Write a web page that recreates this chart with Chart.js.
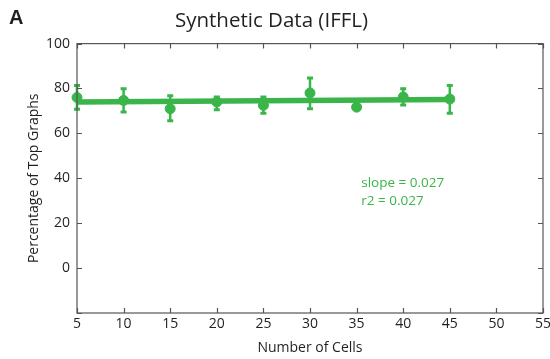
<!DOCTYPE html>
<html>
<head>
<meta charset="utf-8">
<script src="https://cdn.jsdelivr.net/npm/chart.js@4/dist/chart.umd.min.js"></script>
<style>
  html, body { margin: 0; padding: 0; background: #fff; }
  #wrap { width: 550px; height: 359px; position: relative; }
</style>
</head>
<body>
<div id="wrap"><canvas id="myChart"></canvas></div>
<script>
// valores
const cells = [5, 10, 15, 20, 25, 30, 35, 40, 45];
const meanPct = [76.0, 74.7, 71.0, 74.0, 72.5, 78.0, 71.7, 76.2, 75.3];
const upperPct = [81.3, 79.9, 76.8, 76.2, 76.2, 84.7, 72.4, 79.9, 81.3];
const lowerPct = [70.8, 69.5, 65.6, 70.5, 69.0, 71.0, 71.0, 72.6, 69.0];
const fitX = [5, 45];
const fitY = [74.0, 75.1];
const xTicks = [5, 10, 15, 20, 25, 30, 35, 40, 45, 50, 55];
const yTicks = [-20, 0, 20, 40, 60, 80, 100];
const statLines = ['slope = 0.027', 'r2 = 0.027'];

const green = '#3ab54a';
const ink = '#231f20';
const fontName = "'Open Sans', 'Noto Sans', sans-serif";

// barras de erro
const errorBars = {
    id: 'errorBars',
    afterDatasetsDraw(chart) {
        const x = chart.scales.x, y = chart.scales.y, ctx = chart.ctx;
        ctx.save();
        ctx.strokeStyle = green;
        cells.forEach((c, i) => {
            const px = x.getPixelForValue(c);
            const top = y.getPixelForValue(upperPct[i]);
            const bot = y.getPixelForValue(lowerPct[i]);
            ctx.lineWidth = 2.5;
            ctx.beginPath();
            ctx.moveTo(px, top); ctx.lineTo(px, bot);
            ctx.stroke();
            ctx.lineWidth = 3;
            ctx.beginPath();
            ctx.moveTo(px - 3, top); ctx.lineTo(px + 3, top);
            ctx.moveTo(px - 3, bot); ctx.lineTo(px + 3, bot);
            ctx.stroke();
        });
        ctx.restore();
    }
};

// moldura com ticks para dentro, letra A e texto da regressao
const frame = {
    id: 'frame',
    afterDraw(chart) {
        const x = chart.scales.x, y = chart.scales.y, ctx = chart.ctx;
        const a = chart.chartArea;
        ctx.save();
        ctx.strokeStyle = '#555';
        ctx.lineWidth = 1.2;
        ctx.strokeRect(a.left, a.top, a.right - a.left, a.bottom - a.top);
        ctx.beginPath();
        xTicks.forEach(t => {
            const px = Math.round(x.getPixelForValue(t)) + 0.5;
            ctx.moveTo(px, a.bottom); ctx.lineTo(px, a.bottom - 5);
            ctx.moveTo(px, a.top); ctx.lineTo(px, a.top + 5);
        });
        yTicks.forEach(t => {
            const py = Math.round(y.getPixelForValue(t)) + 0.5;
            ctx.moveTo(a.left, py); ctx.lineTo(a.left + 5, py);
            ctx.moveTo(a.right, py); ctx.lineTo(a.right - 5, py);
        });
        ctx.stroke();

        ctx.fillStyle = ink;
        ctx.font = "bold 20px 'Liberation Sans', Arial, sans-serif";
        ctx.textBaseline = 'middle';
        ctx.fillText('A', 9, 18);

        ctx.fillStyle = green;
        ctx.font = '13.5px ' + fontName;
        ctx.textAlign = 'left';
        const sx = x.getPixelForValue(35.5);
        const sy = y.getPixelForValue(38);
        statLines.forEach((s, i) => ctx.fillText(s, sx, sy + i * 18));
        ctx.restore();
    }
};

Chart.defaults.font.family = fontName;
Chart.defaults.color = ink;

const ctx = document.getElementById('myChart');
new Chart(ctx, {
    type: 'scatter',
    data: {
        datasets: [
            {
                label: 'fit',
                data: fitX.map((v, i) => ({ x: v, y: fitY[i] })),
                showLine: true,
                borderColor: green,
                borderWidth: 5.5,
                pointRadius: 0,
                clip: false,
                order: 2
            },
            {
                label: 'media',
                data: cells.map((c, i) => ({ x: c, y: meanPct[i] })),
                backgroundColor: green,
                borderColor: green,
                pointRadius: 5,
                showLine: false,
                clip: false,
                order: 1
            }
        ]
    },
    options: {
        responsive: true,
        maintainAspectRatio: false,
        animation: false,
        layout: { padding: { left: 0, right: 7, top: 0, bottom: 0 } },
        plugins: {
            legend: { display: false },
            tooltip: { enabled: false },
            title: {
                display: true,
                text: 'Synthetic Data (IFFL)',
                color: ink,
                font: { size: 20.5, weight: 'normal' },
                padding: { top: 9, bottom: 10 }
            }
        },
        scales: {
            x: {
                type: 'linear',
                min: 5,
                max: 55,
                afterBuildTicks: s => { s.ticks = xTicks.map(v => ({ value: v })); },
                afterFit: s => { s.height = 46; s.paddingRight = 7; },
                grid: { display: false, drawTicks: false },
                border: { display: false },
                ticks: { font: { size: 14 }, padding: 3, maxRotation: 0 },
                title: { display: true, text: 'Number of Cells', font: { size: 14 }, padding: { top: 0, bottom: 3 } }
            },
            y: {
                min: -20,
                max: 100,
                afterBuildTicks: s => { s.ticks = yTicks.map(v => ({ value: v })); },
                afterFit: s => { s.width = 77; },
                grid: { display: false, drawTicks: false },
                border: { display: false },
                ticks: { font: { size: 14 }, padding: 7, callback: v => (v < 0 ? '' : v) },
                title: { display: true, text: 'Percentage of Top Graphs', font: { size: 14 }, padding: { top: 26, bottom: 0 } }
            }
        }
    },
    plugins: [errorBars, frame]
});
</script>
</body>
</html>
